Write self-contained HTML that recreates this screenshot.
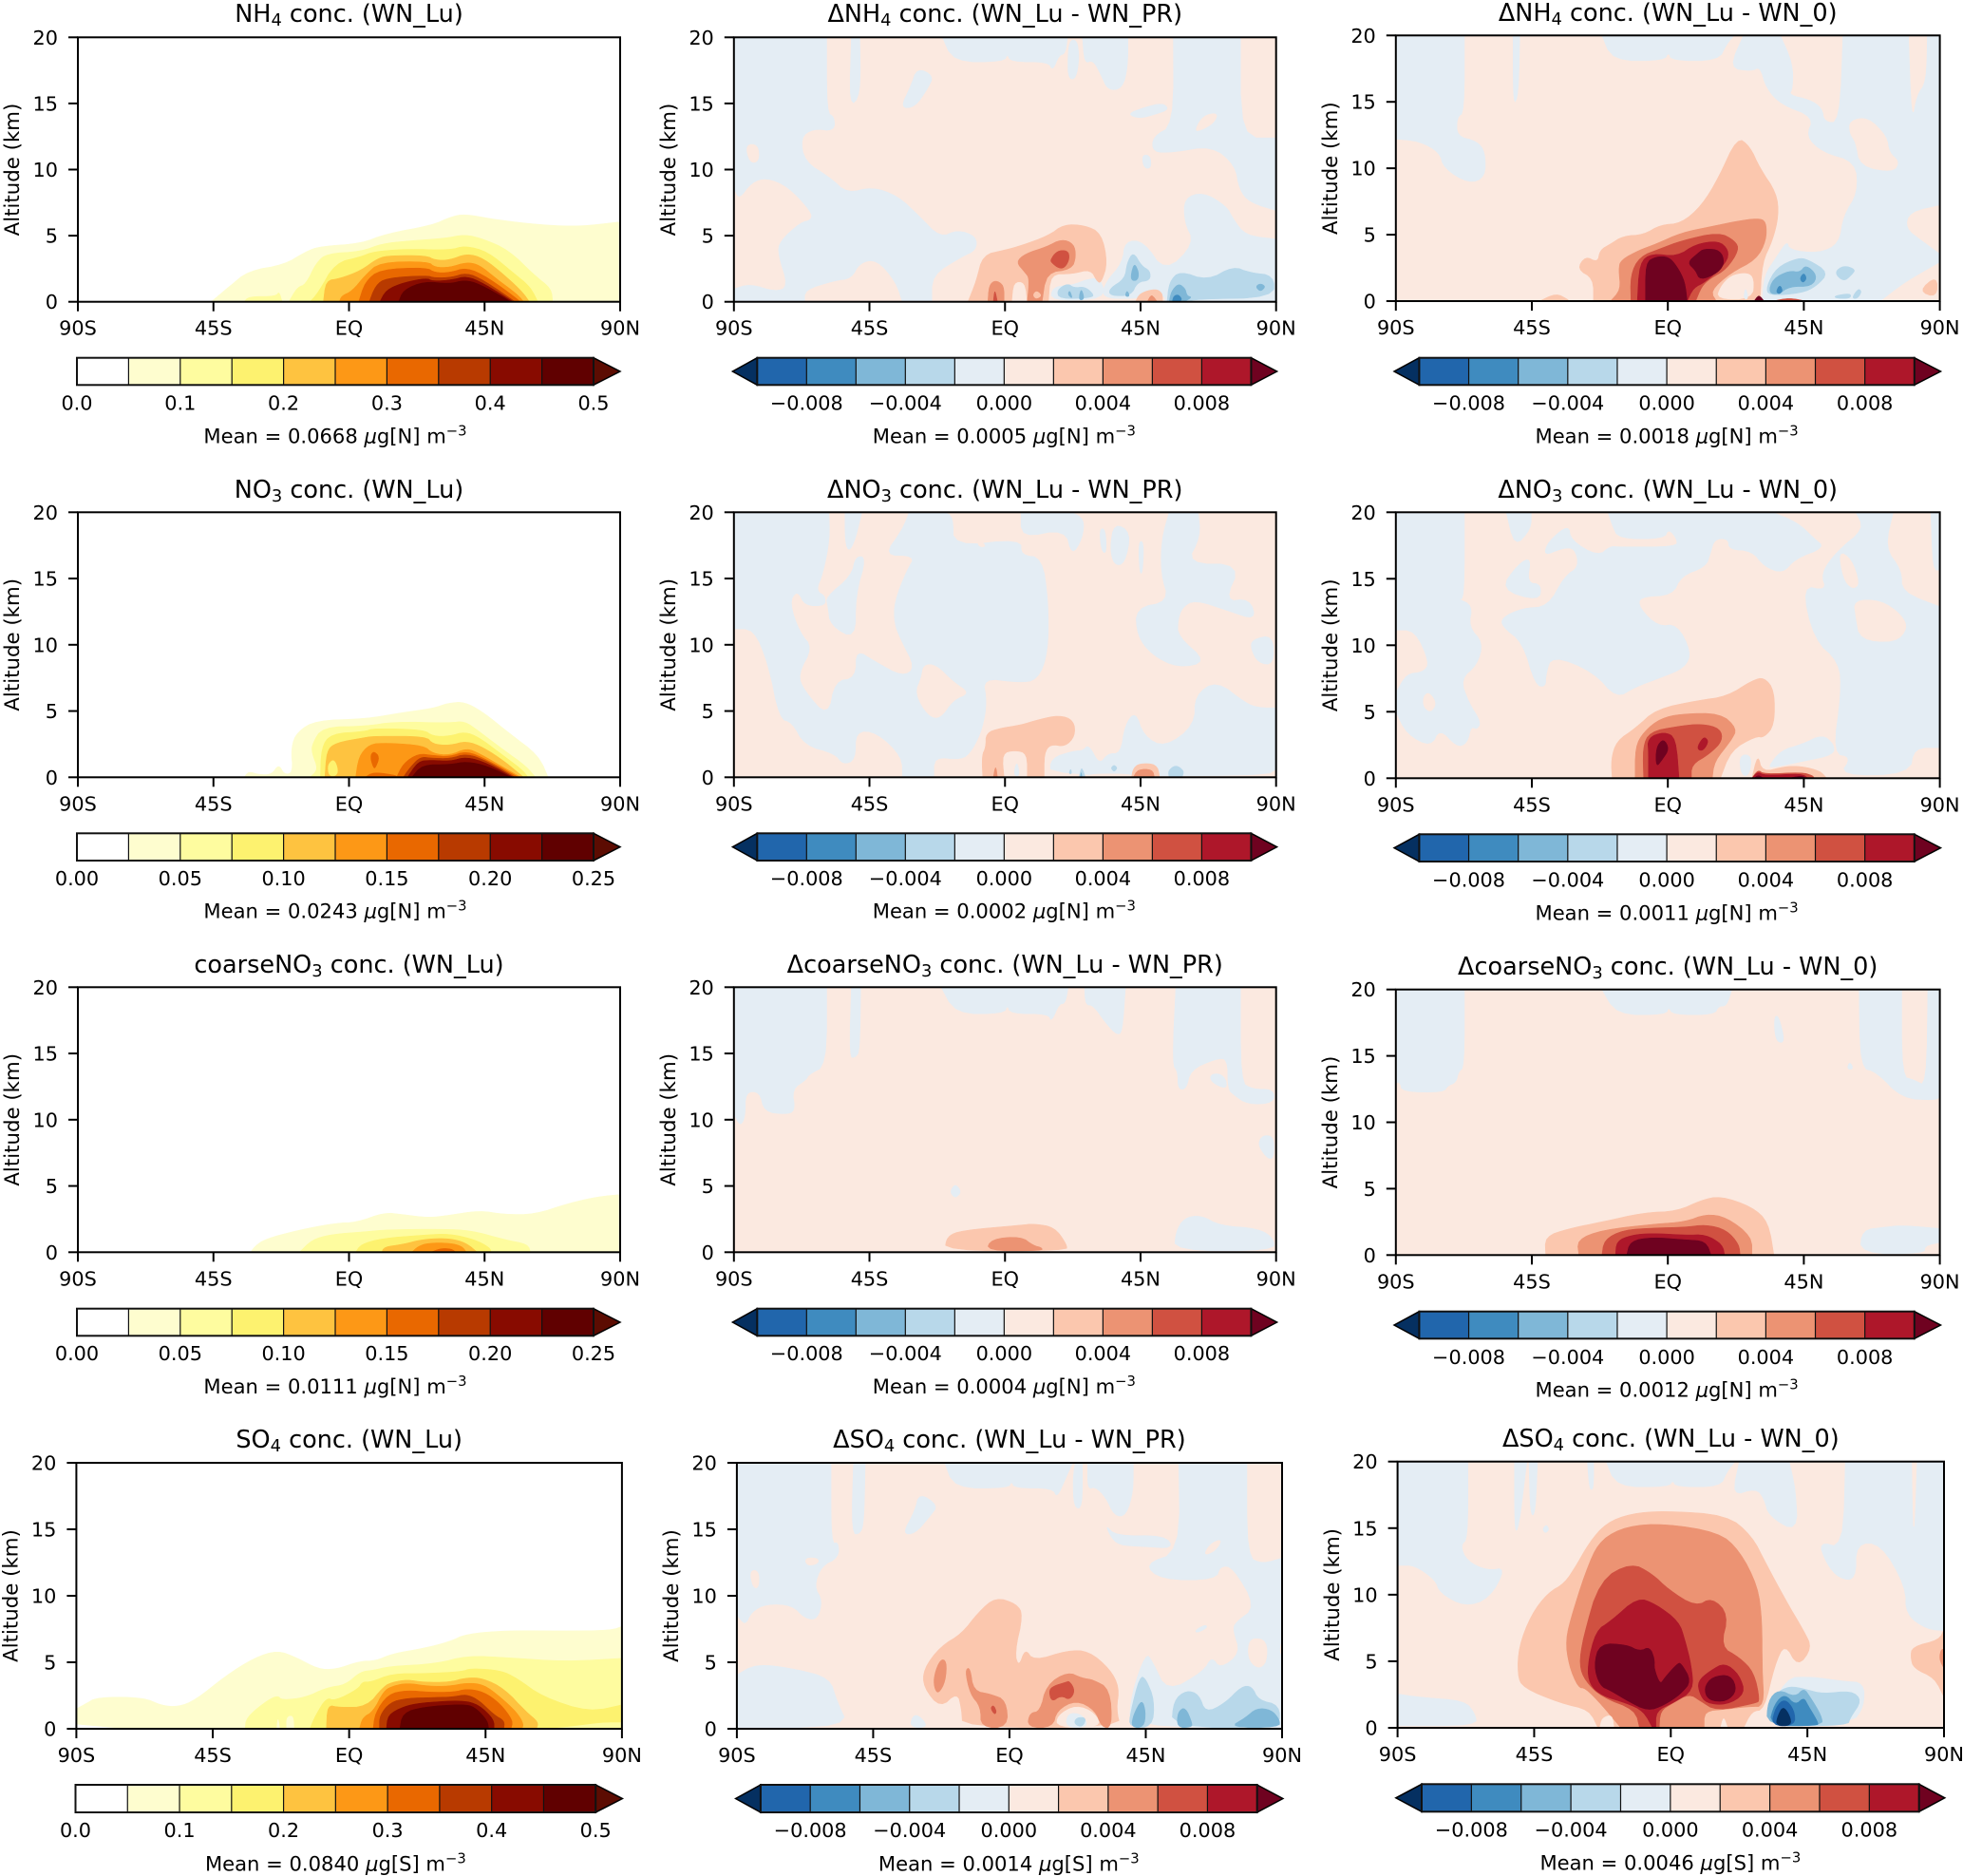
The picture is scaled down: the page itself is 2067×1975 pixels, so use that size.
<!DOCTYPE html>
<html lang="en">
<head>
<meta charset="utf-8">
<title>Zonal mean aerosol concentration panels</title>
<style>
html,body{margin:0;padding:0;background:#fff;}
svg{display:block;font-family:"DejaVu Sans","Liberation Sans",sans-serif;fill:#000;}
</style>
</head>
<body>
<svg id="figure" xmlns="http://www.w3.org/2000/svg" width="2067" height="1975" viewBox="0 0 2067 1975"></svg>
<script>
const latTicks = [-90, -45, 0, 45, 90];
const latTickLabels = ["90S", "45S", "EQ", "45N", "90N"];
const altTicks = [0, 5, 10, 15, 20];
const concColors = ["#ffffff","#fefdcf","#fefc9f","#fdf26f","#fec340","#fd9816","#e96800","#b83a00","#880b00","#600000","#5c0c02"];
const deltaColors = ["#053061","#2166ac","#3f8bbf","#7fb7d7","#b8d8ea","#e4edf4","#fbe9e0","#fbc7ae","#ec9373","#d05141","#ae172a","#6f0220"];
const concTicksHalf = [0, 0.1, 0.2, 0.3, 0.4, 0.5];
const concTicksQuarter = [0, 0.05, 0.10, 0.15, 0.20, 0.25];
const deltaTicks = [-0.008, -0.004, 0, 0.004, 0.008];
const meanValues = ["0.0668","0.0005","0.0018","0.0243","0.0002","0.0011","0.0111","0.0004","0.0012","0.0840","0.0014","0.0046"];

// Filled contour bands: [colour level, [lat, alt, lat, alt, ...]]
const fieldNh4Lu = [
[1,[-45.8,0,-39.8,1.15,-33.4,2.35,-21.5,2.8,-14.4,3.8,-9.5,4.2,3.9,4.4,12.3,5.15,27.8,5.8,33.4,6.4,38.4,6.65,48.9,6.2,64.4,5.8,77,5.7,90,6.05,90,0]],
[2,[-34.8,0,-33.4,.4,-24.3,.4,-23.2,.8,-22.2,0]],
[2,[-20,0,-17.2,1.1,-14.4,1.3,-10.9,2.95,-7.4,3.65,3.9,3.8,10.9,4.4,19.4,4.6,32,4.8,38.4,5.1,44.7,4.75,53.1,3.9,61.6,2,67.2,1,67.6,0]],
[3,[-13,0,-10.2,.7,-4.6,2.95,3.9,3.4,8,3.8,19.4,4,33.4,3.9,38.4,4.25,46.1,3.8,54.5,2.2,60.2,1.15,62.7,0]],
[4,[-8.5,0,-7.7,1.6,-3.2,1.75,3.9,2.35,9.5,3.3,13.7,3.5,25.7,3.5,28.5,3.15,33.4,3.15,39,3.65,44.7,3.3,51.7,2,57.4,.8,59.9,0]],
[5,[-3.2,0,-2.5,.45,1,.8,5.3,2,10.2,3,26.4,3.05,28.5,2.6,33.4,2.6,39,3,43.3,2.8,48.9,1.75,56,.55,58,0]],
[6,[3.2,0,5.3,1.5,10.2,2.45,25.7,2.6,28.5,2.2,33.4,2.2,39,2.6,46.1,1.85,56,.2,56.7,0]],
[7,[6.7,0,8.8,1.25,12.3,1.8,25.7,2,28.5,1.8,34.1,1.85,39,2.2,44.7,1.65,55.2,0]],
[8,[10.2,0,12.3,.9,18,1.45,25.7,1.8,27.8,1.55,34.1,1.65,39,1.95,44.7,1.4,54.5,0]],
[9,[16.5,0,18,.9,25,1.55,33.4,1.35,38.4,1.65,43.3,1.35,53.1,.1,53.5,0]]
];
const fieldNo3Lu = [
[1,[-34.8,0,-33.4,.45,-29.9,.2,-25.7,.2,-23.3,1,-21.5,.2,-18.6,.35,-19.3,2.25,-17.2,3.45,-10.9,4.3,5.3,4.4,18,4.9,27.8,5.2,32.8,5.6,38.4,5.7,44.7,4.9,53.1,3.35,63,1.65,66.1,0]],
[2,[-13,0,-10.2,.6,-12.3,1.8,-12.3,2.5,-8.8,3.8,5.3,3.85,15.2,4.2,33.4,4.1,38.4,4.25,43.3,3.45,51.7,2,58.8,.85,61.9,0]],
[3,[-9.5,0,-9.2,2.25,-6,3.3,5.3,3.45,8,3.7,24.9,3.6,27.8,3.1,33.4,3.1,38.4,3.45,43.3,3,50.3,1.8,57.4,.6,59.5,0]],
[4,[-8,0,-7.4,2,-4.6,2.6,5.3,3,8,3.1,25.7,3.1,27.8,2.5,33.4,2.4,39,2.75,44.7,2.25,51.7,1.2,58,0]],
[3,[-6.7,.1,-7.1,.95,-5,1.4,-3.6,.6,-4.2,.1]],
[5,[2.2,0,3.2,1.55,6.7,2.5,12.3,2.6,24.9,2.4,27.8,1.8,33.4,1.65,39,2.2,43.3,1.8,51.7,.7,57,0]],
[6,[7,1.55,8.1,2,10.2,1.55,8.8,.7,8.1,.7]],
[6,[5.3,0,8,.4,15.8,.15,15.8,0]],
[6,[15.8,0,18,1.05,23,1.8,27.8,1.65,33.4,1.55,39,2,46.1,1.3,56.2,0]],
[7,[18,0,20.1,.7,23.6,1.55,27.2,1.45,33.4,1.4,39,1.8,46.1,1.2,55.2,0]],
[8,[19.4,0,22.9,1.2,27.2,1.3,33.4,1.2,39,1.55,46.1,1.05,54.5,0]],
[9,[20.8,0,24.3,.95,33.4,.95,39,1.2,46.1,.85,53.8,0]]
];
const fieldCoarseLu = [
[1,[-32.7,0,-31.3,.45,-27.8,1,-17.2,1.65,-4.6,2.2,2.5,2.25,11.6,3,17.9,2.85,26.4,2.6,33.4,2.8,43.3,3.15,51.7,2.85,61.6,2.85,72.9,3.7,82.7,4.2,90,4.35,90,0]],
[2,[-16.5,0,-12.3,.95,-6,1.35,5.3,1.55,12.3,1.7,30.6,1.75,40.5,1.65,51.7,.95,59.5,.6,60.2,0]],
[3,[2.2,0,3.9,.6,10.9,1.05,24.9,1.3,33.4,1.4,41.9,.95,46.8,.35,47.2,0]],
[4,[10.9,0,11.6,.4,18,.6,24.9,1,33.4,1.05,39,.7,42.6,0]],
[5,[20.8,0,22.9,.45,26.4,.7,33.4,.7,37.6,.45,39,0]],
[6,[27.1,0,30.6,.3,34.1,.25,35.5,0]]
];
const fieldSo4Lu = [
[1,[-90,1.5,-87.6,1.8,-83,2.4,-67.6,2.35,-62,1.75,-56.4,1.65,-50.8,2.15,-41,3.95,-31.3,5.35,-23.6,5.9,-17.3,5.35,-10.3,4.5,-4.7,4.45,3.7,5.1,8.6,5.1,14.2,5.65,24.6,6.05,33.1,6.55,38.7,7.15,52.8,7.4,69.6,7.35,86.3,7.4,90,7.7,90,0,-73,0,-90,.35]],
[2,[-34.3,0,-34,.85,-27,2.15,-23.5,2.5,-22.2,2.15,-14.5,2.35,-7.5,3.1,-1.2,3.3,3.7,4.3,7.9,4.4,13.5,4.7,28.9,4.9,38.7,5.5,52.8,5.35,71,5.05,90,5.3,90,0]],
[1,[-23.9,0,-23.5,.9,-22.9,0]],
[1,[-20.6,0,-20.7,.9,-18.4,1,-18.2,0]],
[3,[-13,0,-11,1.05,-7.5,2.35,-4.7,2.1,3,3,4.4,3.55,7,3.5,14.2,4.15,24.6,4.15,37.3,4.3,40,4.55,49.9,4.4,55.5,3.8,63.8,2.4,79.2,1.25,90,1.8,90,.5,83.4,.5,73.7,.2,64,0]],
[4,[-7.5,0,-7.2,1.8,-3.3,1.6,5.8,1.65,11.4,3.2,14.2,3.5,19.1,3.7,24.6,3.5,33,3.5,38.7,3.85,44.3,3.8,51.3,3,58.3,1.3,62.5,.5,61.8,0]],
[5,[3.4,0,4.4,.85,7.9,1.3,11.4,2.85,14.2,3.2,19.1,3.45,26.1,3.2,33,3.2,38.7,3.45,44.3,3.35,49.9,2.4,55.5,1.2,57.6,.35,57,0]],
[6,[7.9,0,8.6,1.2,12.8,2.6,19.1,2.9,26.1,2.75,34.5,2.75,38.7,3,44.3,2.8,49.9,1.9,54.1,.6,53.4,0]],
[7,[10,0,10,1,13.5,2,19.1,2.3,27.5,2.35,34.5,2.4,38.7,2.6,42.9,2.15,47.8,1.05,51.3,.6,51,0]],
[8,[12.3,0,12.8,1.05,17.7,1.65,23.3,1.95,37.3,2.15,42.9,1.8,47.8,.7,47.8,0]],
[9,[16.7,0,17.7,1.2,24.6,1.65,37.3,1.85,41.5,1.65,45.7,.6,46,0]]
];
const fieldNh4Pr = [
[6,[-90,0,-90,20,90,20,90,0]],
[5,[-90,20,-59.2,20,-59.2,14.3,-56.6,14,-56.6,12.9,-63.7,13.1,-67.9,12.4,-66.5,10.6,-58,9.4,-52.4,8.2,-44,8.7,-35.5,8,-28.5,6.5,-21.5,4.85,-15.8,5.45,-9.5,4.95,-9.5,3.9,-14.4,3.4,-24.3,2,-24.3,0,-34.1,0,-36.2,1.5,-42.6,3.2,-48.2,2.95,-51,1.75,-56.6,1.6,-66.5,.9,-66.5,0,-90,0]],
[6,[-88.3,7.7,-84.1,9,-79.2,9.35,-72.1,8.7,-64.4,6.8,-64.4,6.2,-67.9,6.05,-74.9,4.6,-75.6,3.65,-72.1,1.15,-76.3,.8,-84.8,1.4,-90,1,-90,8.5]],
[6,[-86.2,11.9,-81.9,11.9,-81.6,10.6,-84.8,10.5]],
[5,[-51,20,-48.2,20,-47.9,15.6,-51.7,14.7]],
[5,[-29.2,17.7,-23.6,17.1,-25.7,16.1,-29.9,14.7,-34.8,14.65,-31.3,16.3]],
[5,[-20.8,20,-17.2,18.15,-.3,18.15,.8,18.75,1.8,18.15,14.4,18.15,15.8,17.45,18,18.65,20,18.75,20.8,20]],
[5,[21.5,19.8,20.8,18.5,21,16.85,23.6,16.85,24.7,18.5,23.9,19.8]],
[5,[25.7,20,26.4,18,29.2,18.3,32,17.1,34.1,16,39,16.1,40.8,17.8,40.8,20]],
[5,[55.9,20,78.2,20,78.2,12.4,90,12.4,90,6.9,81.3,7.5,77.8,8.45,76.4,10.35,68.6,11.8,56,11.3,49,11.3,49,12.5,56,13.35]],
[5,[40.5,14.2,46.1,14.7,52.4,15.05,54.5,14.55,50.3,14.2,44.7,13.85]],
[6,[63,13,65.8,14.1,70.8,14.3,69.4,13.5,64.4,12.9]],
[5,[45.4,11.1,48.2,11.1,48.6,10.1,46.1,10.1]],
[5,[90,4.75,79.9,5,75.7,6.3,73.5,7.25,65.8,8.3,59.5,7.85,59.5,6.05,63,4.4,53.1,2.2,46.1,4.6,39.8,4.6,39,2.95,33.4,1.5,32,.3,41.9,.2,53.1,.55,53.1,0,90,0]],
[5,[15.1,.05,15.8,1.15,22.2,1.25,27.8,1.75,31.9,1.75,33.4,.2]],
[7,[-12.3,0,-9.5,1.6,-7.4,3.55,-.3,3.9,5.3,4.25,14.4,5,19.4,5.85,26.4,5.8,32,5.2,34.1,2.95,32,1.45,30.6,1.5,28.5,2.45,22.2,2.1,15.1,2.1,14.4,0,7.4,0,6.7,1.5,2.8,1.5,2.2,0]],
[8,[3.6,3,6.7,3.65,13.7,4.15,18.7,4.75,22.9,4.4,23.6,3.4,22.2,2.45,13.7,2.2,12.3,0,7.4,0,8.1,1.75,6.7,2.2]],
[7,[9.2,.55,10.6,.85,12.3,.45,10.2,.2]],
[8,[-5.7,0,-5.3,1.25,-3.2,1.65,-.3,1.25,-.3,0]],
[7,[43.3,0,44.7,.65,50,1,52.3,.65,52.3,0]],
[8,[47.2,0,48.6,.6,50.6,0]],
[9,[15.1,3.2,17.2,3.85,20.8,3.9,21.5,3.3,20,2.6,18,2.5,15.4,2.95]],
[9,[-3.9,0,-3.4,1,-2.5,0]],
[4,[53.8,0,54.5,1.5,58,2.35,67.2,1.6,75.7,2.7,81.3,2.2,89.3,2,89.3,.3,63,.2,61.5,0]],
[3,[54.5,0,55.2,.8,57.6,1.4,59.9,1,60.4,.45,62.2,.35,59.5,0]],
[2,[55.5,0,56,.45,57.6,.55,58.8,.2,58,0]],
[3,[83.1,1.15,84.8,1.4,86.6,1.15,84.8,.75]],
[4,[34.6,1,39.8,1.75,40.5,2.95,42.6,3.8,45.4,2.7,48.2,2.35,48.2,1.6,44,1.5,41.9,.45,34.8,.45]],
[3,[41.9,2.2,43,2.95,44.5,2.2,44,1.6,41.9,1.6]],
[3,[39.8,.4,40.5,.9,41.5,.4]],
[4,[17.2,.9,20.8,1.4,22.9,1.05,26.4,1.15,29.2,.65,29.2,.3,18,.2]],
[3,[20.8,.55,21.5,.9,22.5,.2]],
[3,[24.7,.55,25.4,1,26.4,.2,24.7,.1]]
];
const fieldNh4Zero = [
[6,[-90,0,-90,20,90,20,90,0]],
[5,[-90,20,-67.3,20,-67.3,14.2,-69.8,13.85,-69.8,12.4,-63.1,12.05,-60.4,11.2,-60.4,9.3,-65.9,8.85,-74.2,10,-75.5,11.2,-82.4,12.05,-90,12.2]],
[5,[-51.2,20,-49,20,-49.4,15.5,-51.2,14.7]],
[5,[-21.8,20,-18.4,18.1,-1.2,18.1,.2,18.75,1.3,18.1,16.8,18.1,19.5,19.35,22,20]],
[5,[25,20,20.2,17.55,27.8,17.3,30.5,17.65,32.6,16,37.4,14.8,48.4,13.85,45.7,12.4,51.2,11.2,62.2,10.5,62.9,8.15,58.1,6.45,56.7,4.3,49.8,3.6,40.2,3.85,39.5,4.55,36,3.35,31.9,1.95,31.2,0,90,0,90,20]],
[6,[37.4,20,41.5,17.9,41.5,16,40.2,15.55,47,15.2,51.2,14.55,51.9,13.5,56.7,13.5,57.8,20]],
[6,[79.8,20,80.8,13.5,82.2,15.5,85.4,16.5,85.7,20]],
[6,[60.1,13.6,66.3,13.85,72.5,12.4,73.2,11.2,76.7,10.5,74.6,9.7,63.6,10.15,62.2,11.95,60.1,12.65]],
[6,[90,7.2,80.1,6.7,78.7,5.5,84.2,4.55,90,3.6]],
[6,[70.5,0,78.7,1.45,90,2.9,90,0]],
[7,[82.9,.75,89.1,1.95,89.1,.25]],
[7,[-42.5,0,-37,.6,-32.8,.1,-32.8,0]],
[7,[-30.1,2.4,-27.3,3.4,-23.2,2.9,-22.5,3.85,-19,4.3,-14.9,4.9,-8,5,-2.5,5.75,4.4,5.85,11.2,7.2,16.8,9.3,22.9,12.35,27.1,11.7,30.5,10,36,8.15,36.7,6.45,34.7,4.55,31.2,2.9,30.5,0,-24.6,0,-24.6,1.7]],
[8,[-16.3,2.4,-15.6,3.1,-9.4,3.85,-3.9,4.3,4.4,5.15,14,5.6,22.3,6,29.8,6.25,32.6,6,32.6,4.55,29.2,3.1,20.9,2.15,14,.75,16.1,0,-19,0,-15.6,.85]],
[6,[16.1,.15,17.4,1.1,20.9,1.95,26.4,2.15,28.5,1.7,28,.15]],
[5,[25,.15,25.7,1.1,26.7,.15]],
[9,[-12.2,0,-12.4,1.95,-9.4,3.35,-2.5,3.95,4.4,4.55,16.8,5.2,22.3,4.55,23.6,3.85,19.5,2.4,14,1.7,11.2,1.1,9.2,0]],
[10,[-10.1,0,-9.4,2.9,-5.3,3.6,3,3.35,9.2,4.3,16.8,4.55,20.2,3.85,19.5,2.9,12.6,1.45,8.5,1,6.4,0]],
[11,[-7.4,0,-7.4,2.9,-3.9,3.35,.2,3.35,3,2.65,5.7,1.45,6.4,0]],
[11,[6.4,2.9,9.9,3.6,11.9,3.95,17.4,3.85,18.8,2.9,16.8,2.15,10.6,1.55,9.2,2.3]],
[9,[34.7,0,40.2,.25,45.7,0]],
[11,[28.5,0,30.1,.5,31.9,0]],
[4,[32.6,1.1,36,2.55,42.9,3.25,46.4,3.15,53.3,2.15,49.1,1.1,44.3,.6,33.3,.4]],
[4,[55,2.15,58.1,2.7,62.2,2.4,60.8,1.95,58.1,1.45]],
[4,[55,.4,60.5,.6,60.5,.2,55.7,.2]],
[4,[60.8,.2,62.9,.95,64.2,.75,62.9,.2]],
[3,[33.3,.6,34.7,1.7,40.2,2.3,43.6,2.15,45.7,2.75,49.5,1.95,47.7,1.1,40.2,1.1,36.7,.5]],
[2,[35.8,.75,37.1,1.25,38.1,.75,36.7,.5]],
[2,[43.6,1.7,45,2.15,46,1.7,44.7,1.35]]
];
const fieldNo3Pr = [
[6,[-90,0,-90,20,90,20,90,0]],
[5,[-90,20,-90,11.2,-83.4,11.2,-78.5,8.5,-74.9,4.4,-70.7,4.15,-66.5,2.4,-56.6,1.8,-53.8,.95,-49.6,1.3,-49.6,3.5,-42.6,3.4,-34.1,1.55,-34.1,0,-23.6,0,-23.6,1.55,-14.4,1.3,-10.9,2,-7.4,3.7,-6,5.7,-7.4,7.5,3.9,7.15,10.9,7.3,14.4,9.5,14.4,13.3,12.3,16.6,5.3,16.75,5.3,18,-17.2,17.4,-17.2,19.7,-20,20]],
[6,[-58.3,20,-58,18,-60.2,15.4,-62.6,14.1,-59.5,13.7,-59.5,12.9,-66.5,12.9,-69,14.1,-71.4,13.15,-67.9,10.9,-63.7,9.8,-68.6,7.75,-66.5,6.55,-58.8,4.55,-56.6,7.3,-49.6,7.5,-49.6,9.7,-42.6,8.7,-34.1,7.65,-29.9,8.25,-34.8,10.4,-36.9,11.6,-36.9,13.25,-32.7,15.65,-29.9,16.7,-40.5,16.7,-34.1,18.75,-32,20]],
[5,[-53.1,20,-53.1,17.7,-51.7,17,-49.6,18,-47.5,20]],
[5,[-59.5,13.6,-51,15.2,-49.6,16.7,-46,16.6,-49.6,13.75,-49.6,10.4,-58,11.45,-58.8,12.9]],
[6,[-27.1,8.5,-22.9,8.5,-17.2,7.2,-11.6,6.35,-17.2,5.85,-21.5,4.4,-25.7,4.65,-29.9,6.35,-27.8,7.5]],
[6,[-8.8,18,-6,17.4,-9,17.4]],
[5,[5.3,20,22.2,20,26.4,19.5,25.7,18,22.2,16.7,20,18.75,5.3,18.05]],
[5,[36.2,19.2,41.9,18.5,39.8,16.1,36.2,16,34.8,17.3]],
[5,[31.3,18.75,33.4,18.75,33.7,16.85,32,17.1]],
[5,[44.3,17.8,46.1,17.8,45.7,15.4,44.7,15.4]],
[5,[54.5,20,64.1,20,65,18.2,60.2,16.1,78.5,16.1,72.8,13.25,81.3,13.5,83.4,11.85,74.2,12.55,63,13.4,58.8,12.8,57.4,11.85,57.4,10.65,67.2,8.7,57.4,8.25,48.9,9.2,43.9,10.65,43.3,12.8,54.5,13.25,51.7,15.4,52,18]],
[5,[82,10.4,89,10.75,89.3,8.5,84.1,8.6,81.6,9.7]],
[5,[70.3,7.3,79.9,5.6,84.1,5.25,90,5.25,90,.6,86.3,.1,15.1,.1,15.1,1.45,22.9,2,25.7,2,27.8,2.5,31.3,.95,34.1,1.8,38.4,1.8,39.8,3.95,43.3,5,46.1,3.1,53.1,2.25,63,3.95,63,6.2]],
[6,[28,0,28,.25,42,.25,42,0]],
[7,[-7.4,0,-7.7,1.65,-6.4,2.25,-6.3,3.35,-1.8,3.7,5.3,3.95,10.9,4.35,18,4.7,22.9,4.3,23.3,3.1,20,2.3,15.1,2.5,13,1.8,13,0,7.4,0,7.4,1.8,3.2,2.05,-1,1.8,-.3,0]],
[5,[2.8,.1,3.9,1.3,5,.1]],
[8,[-3.9,0,-3.1,.95,-2.5,0]],
[7,[42,0,42.6,.7,44.7,1.05,50.3,1,51.4,.1,51,0]],
[8,[42.6,0,44,.6,49,.6,49.6,0]],
[4,[54.1,.5,56.7,.95,59.5,.5,58.8,0,54.5,0]],
[4,[24.6,0,25.4,.85,26.7,0]],
[3,[25,0,25.3,.45,25.6,0]],
[4,[21.2,.25,21.8,.7,22.2,.25]],
[4,[35.1,.7,36.2,.95,37.4,.7,36.2,.4]]
];
const fieldNo3Zero = [
[6,[-90,0,-90,20,90,20,90,0]],
[5,[-90,20,-67.3,20,-67.3,13.5,-69.4,13.5,-64.6,13,-65.9,11.4,-61.1,10.2,-63.1,8.5,-68.6,7.45,-65.9,5.7,-61.8,4.25,-63.1,3.65,-65.1,3.9,-66.4,2.6,-69.9,2.35,-75.5,3.75,-78.3,2.35,-86.4,3.3,-90,5]],
[6,[-90,11.1,-83.8,11.1,-79,8.7,-81,8,-86.5,7.9,-90,6.5]],
[6,[-81,6.15,-79,6.5,-76.5,5.65,-78.3,4.95,-80.8,5.3]],
[5,[-53.5,20,-50.7,17.35,-45.2,18.75,-45.2,20]],
[5,[-49.4,16.15,-45.2,16.6,-46.6,14.7,-41.8,14.6,-42.5,13.3,-55.6,14.2]],
[5,[-19.8,20,34.7,20,42.9,19.25,48.4,18.05,52,17.35,42.2,16.5,38.1,15.4,31.9,15.9,27.8,17.1,20.2,17.2,20,18,15.5,18,14,16.85,12.6,15.9,4.4,15.2,1.6,13.75,-9.4,13.65,-9.4,12.8,-3.2,11.4,3,11.6,7.8,9.5,5.7,8.3,-2.5,7.55,-10.8,6.85,-17,6,-24.6,8,-38.3,9.25,-40.4,7.8,-40.4,6.85,-43.9,7,-48,10.2,-54.9,11.4,-54.9,12.1,-48,12.8,-39.7,12.9,-34.2,15.2,-29.4,15.9,-30.8,17.3,-34.9,17.3,-41.1,16.7,-39.7,17.8,-32.8,19.1,-32.1,17.9,-23.2,16.7,-19,17.45,-17,17.4,3,17.4,3,18,.2,18.75,-1.2,18,-16.3,18,-18.4,19]],
[5,[62.2,20,74.6,20,71.8,17.35,77.4,15.65,77.4,14,90,12.9,90,2.3,81.5,2.3,80,.3,56.7,.2,60.8,1.6,54.6,1.85,57.4,6.4,56.7,8.75,48.4,10.4,44.3,14.5,52.6,14.1,50.6,15.4,56,17.1,65,18.75]],
[6,[56.5,17.1,60.8,16.5,63.6,14.6,61,14.2,58,15]],
[6,[61.5,13.4,70.5,13.4,77.4,12.3,79.4,11.25,75.3,10.2,63.6,10.4,62.2,12.1]],
[5,[87,20,90,20,90,15.65,87.7,15.65]],
[5,[33.3,.9,37.4,2.1,44.3,2.55,51.2,3.3,55,2.55,55,1.75,44.3,1.25,34.7,.8]],
[7,[-18.4,0,-18.8,1.4,-17,2.8,-10.8,3.75,-3.9,5.2,9.9,5.85,19.5,6.15,27.8,7.35,31.9,7.6,35.3,6.6,35.3,4,31.9,3.05,29.1,3.15,20.9,2.1,17.4,0]],
[7,[27.8,0,29.8,1.85,31.2,.45,38.8,.9,44.3,.9,50.5,.55,52.6,0]],
[5,[23.6,1.75,27.8,1.75,27,.2,24.3,.2]],
[8,[-10.8,0,-10.8,2.35,-8,3.5,-2.5,4.5,4.4,4.85,17.4,4.9,23,3.75,20.9,2.8,15.4,1.25,14.7,0]],
[9,[-8,0,-8.3,2.35,-6,3.5,3,3.9,11.2,4.1,17.4,3.75,18.1,2.8,14,1.85,7.8,1,7.8,0]],
[10,[-6.4,0,-6.4,1.85,-6.7,3.05,-1.2,3.5,2.7,3.05,3.7,0]],
[10,[9.9,2.45,11.9,3.15,13.6,2.8,11.9,2.1,10.1,2.1]],
[11,[-3.9,.8,-3.9,2.35,-1.4,3,.5,2.2,-1.8,1.4]],
[9,[27.8,0,29.8,.65,31.9,.3,44.3,.45,48,.2,48.5,0]],
[10,[27.8,0,29.8,.5,31.9,.2,44.3,.35,46.4,0]],
[11,[28.5,0,30,.25,31.6,0]],
[11,[40,0,44.3,.2,45.7,0]]
];
const fieldCoarsePr = [
[6,[-90,0,-90,20,90,20,90,0]],
[5,[-90,20,-59.2,20,-59.2,14.1,-65.2,13.4,-66,13,-70.7,12.3,-69.6,10.65,-72.8,10.4,-80,10.6,-81.4,12.1,-86.2,12.1,-86.2,10.2,-87.9,9.5,-90,10.4]],
[5,[-51,20,-47.9,20,-48.2,15.2,-49.6,14.7,-51.7,14.7]],
[5,[-21.2,20,-16.5,18,-.3,18,.8,18.65,1.8,18,14.4,18,15.4,17.35,18,18.75,20,18.75,21,20]],
[5,[26.4,20,26.7,18.65,29.2,18.65,33.4,17.3,37,16.4,39,16.6,40,20]],
[5,[56.7,20,78.2,20,78.2,12.9,82,12.3,89.3,12.3,89.3,11.25,80.6,11.15,76,11.85,74,12.3,73.9,14.6,70,14.6,61.6,13.75,60.2,12.3,57.4,12.3,57.4,13.6,55.5,14.2]],
[5,[68,13.4,71.4,13.5,73.5,13,73.5,12.3,68.6,12.8]],
[5,[84.4,8.5,86.2,8.85,89.3,8.7,89.3,7.1,87.2,7.05,84.4,7.9]],
[5,[-18.4,4.55,-16.5,5.2,-14.4,4.55,-16.5,4.05]],
[5,[56.2,.1,56.7,1.55,59.5,2.6,65.1,2.8,71.4,2,84.1,1.8,89.3,1.05,89.3,.1]],
[7,[-20,.1,-19.3,1.2,-14.4,1.65,5.3,2.05,9.5,2.15,16.5,1.9,20.5,.6,20.5,.1]],
[8,[-6.3,.1,-4.6,1,5.3,1.2,9.5,.5,12.3,.35,12.3,.1]]
];
const fieldCoarseZero = [
[6,[-90,0,-90,20,90,20,90,0]],
[5,[-90,20,-67.3,20,-67.3,14.15,-69.3,13.8,-70,13,-72.8,12.75,-74.2,12.25,-87.9,12.3,-88.6,13,-90,13]],
[5,[-21.8,20,-17,18.1,-.5,18.1,.2,18.7,1.6,18.1,15.4,18.1,16.8,18.75,19.5,18.75,21.2,20]],
[5,[35.3,18,36.7,18,38.8,16.05,36.3,16,35.3,16.8]],
[5,[59.2,14,60.2,14.6,61.5,14]],
[5,[63.3,20,77.4,20,77.4,13.45,81.5,13.2,85.6,12.7,86,20,90,20,90,11.9,88.4,11.65,77.4,11.8,69,13.8,63.6,14.1]],
[5,[63.6,.1,64.2,1.9,71.8,2.1,77.4,2.25,90,2,90,.95,85,.7,85,.1]],
[7,[-40.4,0,-40.7,1.4,-32.8,2,-21.8,2.5,-8,3.2,3,3.3,11.2,4.15,17.4,4.45,27.8,3.65,33.3,2.5,35.1,0]],
[8,[-29.4,0,-30.1,1.15,-21.8,1.9,-3.9,2.35,5.7,2.5,12.6,3.1,19.5,2.85,27.8,1.4,27.8,0]],
[9,[-21.8,0,-21.1,1.15,-14.9,1.9,-3.9,2.05,5.7,2.1,12.6,2.3,19.5,1.9,23.6,.8,23.9,0]],
[10,[-17.3,0,-17,1.05,-12.2,1.5,-5.3,1.65,5.7,1.5,12.6,1.55,18.1,.8,18.8,0]],
[11,[-13.6,0,-12.5,1.05,-5.3,1.35,5.7,1.15,12.6,1.05,14.3,0]]
];
const fieldSo4Pr = [
[6,[-90,0,-90,20,90,20,90,0]],
[5,[-90,20,-58.9,20,-58.9,13.9,-56.4,14.05,-56.4,12.85,-62,12.25,-64.5,10.7,-61.7,9.65,-63.4,8.2,-67.6,8.3,-71.8,9.3,-80.2,9.4,-85.1,8.8,-87.2,7.75,-90,8.55]],
[6,[-67.6,12.85,-63.1,12.85,-63.1,12.4,-66.9,12.25]],
[6,[-85.8,11.9,-82.7,11.9,-82.7,10.6,-84.7,10.6]],
[5,[-51.5,20,-47.6,20,-48,15.7,-49.1,14.65,-52.2,14.65]],
[5,[-29.8,17.75,-23.5,16.8,-26.3,15.95,-31.2,14.65,-35.4,14.65,-31.2,16.4]],
[5,[-90,4.05,-83.7,4.9,-70.4,4.5,-59.2,3.8,-57.1,2.15,-52.9,.1,-90,.1]],
[5,[-33.3,.1,-31.2,1.3,-26.3,.1]],
[5,[-21.4,20,-18.3,18.1,-.4,18.1,.7,18.6,1.7,18.1,14.3,18.1,15.7,17.35,18.5,18.8,20.9,20]],
[5,[20.9,18.8,21.3,16.6,24.1,16.6,24.1,20,21.7,20]],
[5,[25.8,20,25.8,18,28.3,18.2,31.8,17.4,34.6,16,38.5,16,40.9,17.85,40.9,20]],
[5,[31.8,15.35,35,14.5,51.4,14.55,54.2,13.55,44.4,13.7,36,13.8,33.2,14.5]],
[5,[55.9,20,78.4,20,78.4,12.95,83.6,12.4,90,12.85,90,.1,39.5,.1,40.2,2.6,45,5.7,47.2,5.1,52,2.75,64,4.3,66.8,5.45,69.6,4.5,76.3,5.7,73.8,7.4,74.5,8,81.5,9.15,73.8,12.15,69.6,12.25,68.2,11.2,50,11.2,44.4,12.4,56.3,13.3]],
[6,[64,13,66.1,13.9,70.3,14.3,68.2,13.4]],
[6,[78.7,6.2,80.1,6.85,85,6.65,85,5,82.2,4.5,79.1,5.1]],
[6,[89.2,5.95,90,6.65,90,5.35]],
[5,[61.2,7.4,64.7,7.85,65.4,7.6,61.9,7.2]],
[7,[-15.5,.1,-15.8,1.45,-17.2,2.75,-22.8,1.55,-28.4,3.1,-28.4,4.5,-22.8,6.2,-15.8,7.15,-10.2,8.8,-4.6,9.9,2.4,9.4,4.5,8.55,1.7,5.7,3.1,4.65,5.2,6.05,8,5.1,19.2,5.9,26.2,5.85,33.2,4.5,36.3,3.1,35.3,1.45,36.7,.1]],
[8,[-24.9,4.05,-22.8,5.25,-20.7,5.1,-21.1,3.55,-23.5,2.6,-24.9,3.1]],
[8,[-9.5,.1,-9.5,1.65,-13,2.6,-14.7,4.4,-13,4.65,-11.9,2.85,-6,2.6,-1.1,2.15,-.4,.1]],
[8,[5.9,.1,6.6,1.2,10.1,1.3,12.2,3.3,19.2,4.3,24.1,3.8,27.6,3.7,33.2,3,33.9,.1,30.4,.1,28.3,1.4,22,2.15,15.7,1.4,14.3,.1]],
[6,[15.7,.1,15.7,1,22,1.8,28.3,1.2,30.4,.1]],
[5,[18.5,.1,19.2,1.2,24.1,1.1,26.2,.1]],
[4,[21.3,.35,22,.85,25.5,.85,24.1,.1]],
[9,[13,2.85,14.3,3.2,18.5,3.5,19.9,3.6,21.7,2.85,19.9,2.15,17,2.5,13.9,2]],
[9,[-6.3,1.55,-5.3,1.8,-4.2,1.3,-4.9,1.05]],
[4,[39.5,.1,39.9,1.2,43,3.95,45,3.8,47.9,2.15,47.2,.1]],
[4,[53.5,.1,54.2,2.15,58.4,2.9,62.6,2.6,64.7,1.2,71,1.9,76.6,3.2,80.1,3.2,82.2,2.15,89.2,1.8,89.2,.1]],
[3,[40.2,.1,40.9,1.05,43.7,2.25,45,1.3,44.4,.1]],
[3,[55.3,.1,55.6,1.3,58.1,1.65,60.5,.35,59.8,.1]],
[3,[72.4,.1,78,.85,81.5,1.55,86.4,1.45,89.2,.7,89.2,.1]]
];
const fieldSo4Zero = [
[6,[-90,0,-90,20,90,20,90,0]],
[5,[-90,20,-66.8,20,-66.8,14.2,-69.3,13.7,-67.2,12.55,-60.4,11.8,-54.2,12.05,-59.7,9.7,-67.9,9.1,-76.2,10.15,-77.5,11.1,-84.4,12.2,-89.2,12.2,-90,12.2]],
[5,[-51.5,20,-47.4,20,-50.1,14.9,-51.5,14.8]],
[5,[-46.7,20,-43.9,20,-44.6,16,-46.3,16]],
[5,[-42.3,14.9,-41,15.3,-40,14.9,-41.3,14.6]],
[5,[-27.5,20,-25.4,20,-25.4,17.9,-26.8,17.9]],
[5,[-21.3,20,-17.9,18.1,-.7,18.1,.7,18.6,1.7,18.1,16.4,18.1,18.4,19.2,21.2,20]],
[5,[22.6,20,39,20,41.1,18,41.8,14.65,32.2,15.9,30.8,17.2,28,18,20.1,17.4]],
[5,[57.5,20,90,20,90,7.3,84.3,7.4,77.4,8.5,77.4,10.6,69.2,13.85,61,13.85,61,11.1,55.5,11.2,51.3,12.3,48.6,14,56.8,13.5]],
[6,[79.5,20,80,13.5,81,20]],
[5,[-90,2.55,-83,2.3,-67.9,2.05,-64.5,1.1,-63.8,.15,-90,.15]],
[5,[30.8,.15,37.6,3.75,45.9,3.85,56.8,3.5,63.7,3.4,63.7,1.6,59.6,.3]],
[7,[-50.5,3.95,-50.1,6.1,-46,8.5,-40.5,10.15,-35,10.85,-30.9,12.3,-26.8,13.95,-21.3,15.4,-13.1,16.1,-2.1,16.3,18.4,16,26.7,14.45,31.5,12.3,37.6,9.7,43.8,7.3,46.6,6,41.8,4.55,37.6,6.35,34.2,4.7,30.8,1.35,26.7,1.25,24,0,-24,0,-26.8,1.35,-36.4,1.85,-48.7,3]],
[8,[-34.7,6.6,-32.3,8.75,-26.8,12.55,-22.7,14.2,-14.5,15.15,-2.1,15.35,15.7,14.7,22.6,13.35,28.7,10.65,30.1,8,30.1,4.45,30.8,1.6,26,1.6,18.4,1.4,11,1.25,11,0,-16.5,0,-22.7,1.7,-28.2,3,-30.5,3,-33.6,4.7]],
[6,[-23.4,0,-22.7,.75,-19.3,1,-18.7,0]],
[6,[16.4,0,17.4,.9,18.7,0]],
[9,[-30.2,4.7,-28.9,6.8,-23.4,11.1,-13.1,12.4,-6.2,11.6,-.8,10.4,8.2,9.1,13.6,9.8,19.1,8.5,16.4,6.1,22.6,5.3,27.4,4.2,29.4,2.05,28,1.85,15,1.25,9.5,2.05,6.1,2.55,.6,1.85,-3.5,1.25,-3.8,0,-10.3,0,-11.7,1.35,-22.7,2.3,-28.2,3.5]],
[10,[-27.5,4.7,-24.7,7.3,-19.9,8,-11,9.8,-4.9,9.3,2.7,8,4.7,6.6,6.8,4.7,7.5,2.8,1,1.9,-4.9,1.25,-4.9,0,-6,0,-9,1.25,-14.5,1.85,-22.7,2.4,-26.8,3.25]],
[10,[8.8,3.5,13,4.3,17.8,4.9,22.6,4,24.6,2.55,18.4,1.7,11.6,1.85,9.5,2.55]],
[11,[-25.4,4.7,-23.4,6.35,-14.5,6.25,-10.3,5.75,-6.9,6.1,-5.3,5.15,-5.5,4.45,-3.5,3.25,-2.1,3.75,2,4.8,3.4,4.9,6.8,3.5,3.4,2.55,-2.1,1.7,-7.6,1.25,-14.5,2.05,-19.9,2.8,-23.4,3.15]],
[11,[10.9,3,13.6,3.85,19.8,4,21.9,2.8,18.4,1.95,12.3,2.05]],
[7,[79,5.3,79.5,6.1,88.4,6.6,90,7.4,90,2.3,86.9,3.75,80,4.45]],
[8,[88.4,5.15,89,5.9,90,5.9,90,4.45]],
[4,[32.2,.15,34.2,2.55,39,3.15,44.5,2.9,50,2.55,59.6,2.8,63,2.05,59.1,.75,58.3,.15]],
[3,[31.5,.15,32,2.05,35.5,2.9,41,2.3,43.8,3,46,2.3,49.7,.9,50,.15]],
[2,[32.2,.15,34.2,1.85,37.6,2.55,41,1.7,43.8,2.3,45.2,1.7,48.6,.4,48.3,.15]],
[1,[33,.15,34.6,1.6,37.6,2.2,40.7,1.35,41,.15]],
[0,[34.6,.15,35.2,.9,37,1.65,39.3,.9,39.7,.15]]
];

// Layout of each panel (pixels); data lives in the arrays above.
const C1 = {x0:82,x1:653,cb0:81,cb1:625,tipL:81,tipR:653};
const C2 = {x0:772.8,x1:1343.7,cb0:797.3,cb1:1317.4,tipL:771.4,tipR:1344.6};
const C3 = {x0:1469.8,x1:2042.6,cb0:1494.4,cb1:2015.8,tipL:1468,tipR:2043.5};
const C1b = {x0:80.4,x1:654.9,cb0:79.5,cb1:627.2,tipL:79.5,tipR:655.4};
const C2b = {x0:775.9,x1:1350,cb0:800.9,cb1:1323.7,tipL:774.6,tipR:1350.9};
const C3b = {x0:1471.6,x1:2047,cb0:1497,cb1:2020.7,tipL:1469.8,tipR:2047.8};
const R1 = {top:39.3,bot:317.7,cy0:376.7,cy1:405.3,cl:424,mean:459,title:14};
const R1c = {top:37.3,bot:317,cy0:376.7,cy1:405.3,cl:424,mean:459,title:12.7};
const R2 = {top:539.3,bot:818.3,cy0:877.3,cy1:906,cl:924.3,mean:959,title:515};
const R2c = {top:539.3,bot:819.3,cy0:878.3,cy1:907,cl:926,mean:960.7,title:515};
const R3 = {top:1039.3,bot:1318.3,cy0:1377.7,cy1:1406.3,cl:1424.7,mean:1459.3,title:1015};
const R3c = {top:1041.7,bot:1321.3,cy0:1380.7,cy1:1409.3,cl:1428.3,mean:1462.7,title:1016.7};
const R4 = {top:1540,bot:1820,cy0:1879,cy1:1908,cl:1926.7,mean:1961.7,title:1515};
const R4c = {top:1538.7,bot:1819,cy0:1878.3,cy1:1907.3,cl:1926,mean:1961,title:1514};

const panels = [
 {id:"nh4-lu",col:C1,row:R1,field:fieldNh4Lu,kind:"half",pre:"NH",sub:"4",post:" conc. (WN_Lu)",unit:"N"},
 {id:"nh4-pr",col:C2,row:R1,field:fieldNh4Pr,kind:"delta",pre:"ΔNH",sub:"4",post:" conc. (WN_Lu - WN_PR)",unit:"N"},
 {id:"nh4-zero",col:C3,row:R1c,field:fieldNh4Zero,kind:"delta",pre:"ΔNH",sub:"4",post:" conc. (WN_Lu - WN_0)",unit:"N"},
 {id:"no3-lu",col:C1,row:R2,field:fieldNo3Lu,kind:"quarter",pre:"NO",sub:"3",post:" conc. (WN_Lu)",unit:"N"},
 {id:"no3-pr",col:C2,row:R2,field:fieldNo3Pr,kind:"delta",pre:"ΔNO",sub:"3",post:" conc. (WN_Lu - WN_PR)",unit:"N"},
 {id:"no3-zero",col:C3,row:R2c,field:fieldNo3Zero,kind:"delta",pre:"ΔNO",sub:"3",post:" conc. (WN_Lu - WN_0)",unit:"N"},
 {id:"coarse-lu",col:C1,row:R3,field:fieldCoarseLu,kind:"quarter",pre:"coarseNO",sub:"3",post:" conc. (WN_Lu)",unit:"N"},
 {id:"coarse-pr",col:C2,row:R3,field:fieldCoarsePr,kind:"delta",pre:"ΔcoarseNO",sub:"3",post:" conc. (WN_Lu - WN_PR)",unit:"N"},
 {id:"coarse-zero",col:C3,row:R3c,field:fieldCoarseZero,kind:"delta",pre:"ΔcoarseNO",sub:"3",post:" conc. (WN_Lu - WN_0)",unit:"N"},
 {id:"so4-lu",col:C1b,row:R4,field:fieldSo4Lu,kind:"half",pre:"SO",sub:"4",post:" conc. (WN_Lu)",unit:"S"},
 {id:"so4-pr",col:C2b,row:R4,field:fieldSo4Pr,kind:"delta",pre:"ΔSO",sub:"4",post:" conc. (WN_Lu - WN_PR)",unit:"S"},
 {id:"so4-zero",col:C3b,row:R4c,field:fieldSo4Zero,kind:"delta",pre:"ΔSO",sub:"4",post:" conc. (WN_Lu - WN_0)",unit:"S"}
];

const SVGNS = "http://www.w3.org/2000/svg";
const TICK_FONT = 20.8;
const MEAN_FONT = 21.1;
const YLABEL_FONT = 21.3;
const TITLE_FONT = 25.5;
const SPINE = 2;
const svg = document.getElementById("figure");

function make(tag, attrs, parent) {
  const el = document.createElementNS(SVGNS, tag);
  for (const k in attrs) el.setAttribute(k, attrs[k]);
  parent.appendChild(el);
  return el;
}
function latScale(p) { return function (lat) { return p.col.x0 + (lat + 90) / 180 * (p.col.x1 - p.col.x0); }; }
function altScale(p) { return function (alt) { return p.row.bot - alt / 20 * (p.row.bot - p.row.top); }; }
function addSpan(parent, text, attrs) {
  const s = make("tspan", attrs || {}, parent);
  s.textContent = text;
  return s;
}
function tickText(p, v) {
  if (p.kind === "half") return v.toFixed(1);
  if (p.kind === "quarter") return v.toFixed(2);
  return (v < 0 ? "\u2212" : "") + Math.abs(v).toFixed(3);
}
// Corner-cutting so contour edges read as smooth curves; vertices on the plot boundary stay put.
function isPinned(q) { return q[1] <= 0 || q[1] >= 20 || Math.abs(q[0]) >= 90; }
function smoothRing(flat, passes) {
  let ring = [];
  for (let i = 0; i < flat.length; i += 2) ring.push([flat[i], flat[i + 1]]);
  for (let n = 0; n < passes; n++) {
    const out = [];
    for (let i = 0; i < ring.length; i++) {
      const a = ring[(i - 1 + ring.length) % ring.length], b = ring[i], c = ring[(i + 1) % ring.length];
      if (isPinned(b)) { out.push(b); continue; }
      out.push([b[0] * 0.75 + a[0] * 0.25, b[1] * 0.75 + a[1] * 0.25]);
      out.push([b[0] * 0.75 + c[0] * 0.25, b[1] * 0.75 + c[1] * 0.25]);
    }
    ring = out;
  }
  return ring;
}

panels.forEach(function (p, idx) {
  const g = make("g", {}, svg);
  
  
  const X = latScale(p), Y = altScale(p);
  const palette = p.kind === "delta" ? deltaColors : concColors;

  const clipId = "clip-" + p.id;
  const defs = make("defs", {}, g);
  const clip = make("clipPath", {id: clipId}, defs);
  make("rect", {x: p.col.x0, y: p.row.top, width: p.col.x1 - p.col.x0, height: p.row.bot - p.row.top}, clip);

  const bg = make("rect", {x: p.col.x0, y: p.row.top, width: p.col.x1 - p.col.x0, height: p.row.bot - p.row.top, fill: "#fff"}, g);
  
  

  const bands = make("g", {"clip-path": "url(#" + clipId + ")"}, g);
  
  
  p.field.forEach(function (layer) {
    const pts = smoothRing(layer[1], 2).map(function (q) { return X(q[0]).toFixed(1) + "," + Y(q[1]).toFixed(1); });
    const poly = make("polygon", {points: pts.join(" "), fill: palette[layer[0]], stroke: palette[layer[0]], "stroke-width": 0.5, "stroke-linejoin": "round"}, bands);
    
    
  });

  // spines
  const frame = make("rect", {x: p.col.x0, y: p.row.top, width: p.col.x1 - p.col.x0, height: p.row.bot - p.row.top, fill: "none", stroke: "#000", "stroke-width": SPINE}, g);
  
  

  // x ticks
  latTicks.forEach(function (lat, i) {
    const tk = make("line", {x1: X(lat), x2: X(lat), y1: p.row.bot, y2: p.row.bot + 10, stroke: "#000", "stroke-width": SPINE}, g);
    
    
    const tx = make("text", {x: X(lat), y: p.row.bot + 27.5 + TICK_FONT * 0.36, "font-size": TICK_FONT, "text-anchor": "middle"}, g);
    tx.textContent = latTickLabels[i];
    
    
  });
  // y ticks
  altTicks.forEach(function (alt) {
    const tk = make("line", {x1: p.col.x0 - 10, x2: p.col.x0, y1: Y(alt), y2: Y(alt), stroke: "#000", "stroke-width": SPINE}, g);
    
    
    const tx = make("text", {x: p.col.x0 - 21, y: Y(alt) + TICK_FONT * 0.36, "font-size": TICK_FONT, "text-anchor": "end"}, g);
    tx.textContent = String(alt);
    
    
  });
  // y title
  const midY = (p.row.top + p.row.bot) / 2;
  const yLab = make("text", {x: 0, y: 0, "font-size": YLABEL_FONT, "text-anchor": "middle", transform: "translate(" + (p.col.x0 - 69.5 + YLABEL_FONT * 0.36) + "," + midY + ") rotate(-90)"}, g);
  yLab.textContent = "Altitude (km)";
  
  

  // title
  const titleX = (p.col.x0 + p.col.x1) / 2;
  const title = make("text", {x: titleX, y: p.row.title + TITLE_FONT * 0.36, "font-size": TITLE_FONT, "text-anchor": "middle"}, g);
  
  
  addSpan(title, p.pre);
  addSpan(title, p.sub, {dy: 4, "font-size": TITLE_FONT * 0.7});
  addSpan(title, p.post, {dy: -4});

  // colorbar
  const cb = make("g", {}, g);
  
  
  const segs = 10;
  const segW = (p.col.cb1 - p.col.cb0) / segs;
  const cy0 = p.row.cy0, cy1 = p.row.cy1, cm = (cy0 + cy1) / 2;
  const first = p.kind === "delta" ? 1 : 0;
  for (let i = 0; i < segs; i++) {
    const seg = make("rect", {x: p.col.cb0 + i * segW, y: cy0, width: segW + 0.4, height: cy1 - cy0, fill: palette[first + i]}, cb);
    
    
  }
  const tipR = make("polygon", {points: p.col.cb1 + "," + cy0 + " " + p.col.tipR + "," + cm + " " + p.col.cb1 + "," + cy1, fill: palette[palette.length - 1], stroke: "#000", "stroke-width": 1.5}, cb);
  
  
  if (p.kind === "delta") {
    const tipL = make("polygon", {points: p.col.cb0 + "," + cy0 + " " + p.col.tipL + "," + cm + " " + p.col.cb0 + "," + cy1, fill: palette[0], stroke: "#000", "stroke-width": 1.5}, cb);
    
    
  }
  for (let i = 1; i < segs; i++) {
    const dv = make("line", {x1: p.col.cb0 + i * segW, x2: p.col.cb0 + i * segW, y1: cy0, y2: cy1, stroke: "#111", "stroke-width": 1.2}, cb);
    
    
  }
  const outline = make("rect", {x: p.col.cb0, y: cy0, width: p.col.cb1 - p.col.cb0, height: cy1 - cy0, fill: "none", stroke: "#111", "stroke-width": SPINE}, cb);
  
  

  const vals = p.kind === "half" ? concTicksHalf : p.kind === "quarter" ? concTicksQuarter : deltaTicks;
  const vMin = p.kind === "delta" ? -0.01 : 0;
  const vMax = p.kind === "half" ? 0.5 : p.kind === "quarter" ? 0.25 : 0.01;
  vals.forEach(function (v) {
    const px = p.col.cb0 + (v - vMin) / (vMax - vMin) * (p.col.cb1 - p.col.cb0);
    const tx = make("text", {x: px, y: p.row.cl + TICK_FONT * 0.36, "font-size": TICK_FONT, "text-anchor": "middle"}, cb);
    tx.textContent = tickText(p, v);
    
    
  });

  // mean label
  const mean = make("text", {x: (p.col.cb0 + p.col.cb1) / 2, y: p.row.mean + MEAN_FONT * 0.36, "font-size": MEAN_FONT, "text-anchor": "middle"}, g);
  
  
  addSpan(mean, "Mean = " + meanValues[idx] + " ");
  addSpan(mean, "\u03BC", {"font-style": "italic"});
  addSpan(mean, "g[" + p.unit + "] m");
  addSpan(mean, "\u22123", {dy: -8, "font-size": MEAN_FONT * 0.7});
});
</script>
</body>
</html>
